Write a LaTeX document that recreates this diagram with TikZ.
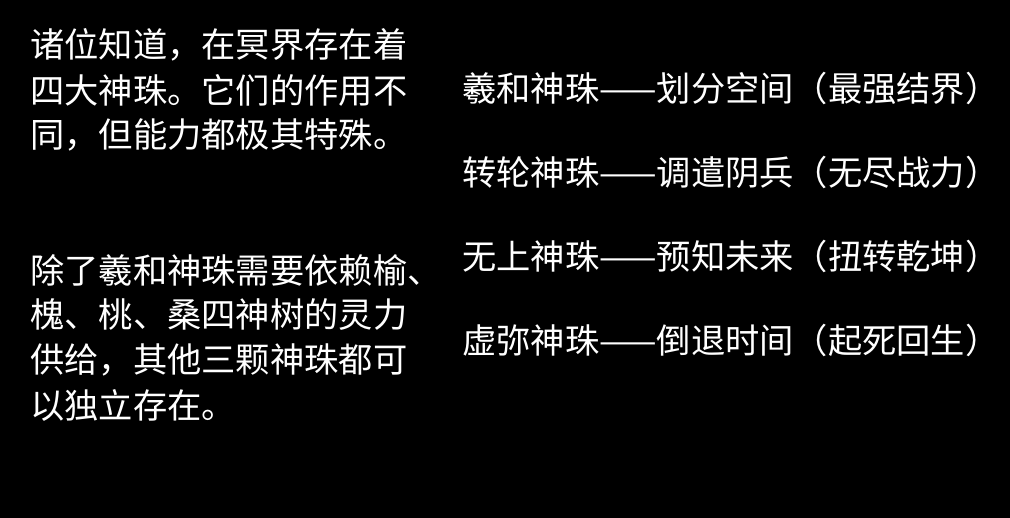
\documentclass[tikz,border=0pt]{standalone}
\usepackage{fontspec}
\newfontfamily\cjk{Noto Sans CJK SC}
\usetikzlibrary{positioning}
\tikzset{
  txt/.style={anchor=west, inner sep=0pt, text=white, font=\cjk\fontsize{19.5}{23}\selectfont},
}
\begin{document}
\begin{tikzpicture}
  % background
  \fill[black] (0,0) rectangle (20.2,10.36);
  \useasboundingbox (0,0) rectangle (20.2,10.36);
  % left paragraphs
  \node[txt] (l1) at (0.6,9.46) {诸位知道，在冥界存在着};
  \node[txt] (l2) at (0.6,8.56) {四大神珠。它们的作用不};
  \node[txt] (l3) at (0.6,7.66) {同，但能力都极其特殊。};
  \node[txt] (l4) at (0.6,4.96) {除了羲和神珠需要依赖榆、};
  \node[txt] (l5) at (0.6,4.06) {槐、桃、桑四神树的灵力};
  \node[txt] (l6) at (0.6,3.16) {供给，其他三颗神珠都可};
  \node[txt] (l7) at (0.6,2.26) {以独立存在。};
  % right list
  \node[txt] (r1) at (9.24,8.6) {羲和神珠——划分空间（最强结界）};
  \node[txt] (r2) at (9.24,6.92) {转轮神珠——调遣阴兵（无尽战力）};
  \node[txt] (r3) at (9.24,5.24) {无上神珠——预知未来（扭转乾坤）};
  \node[txt] (r4) at (9.24,3.56) {虚弥神珠——倒退时间（起死回生）};
\end{tikzpicture}
\end{document}
